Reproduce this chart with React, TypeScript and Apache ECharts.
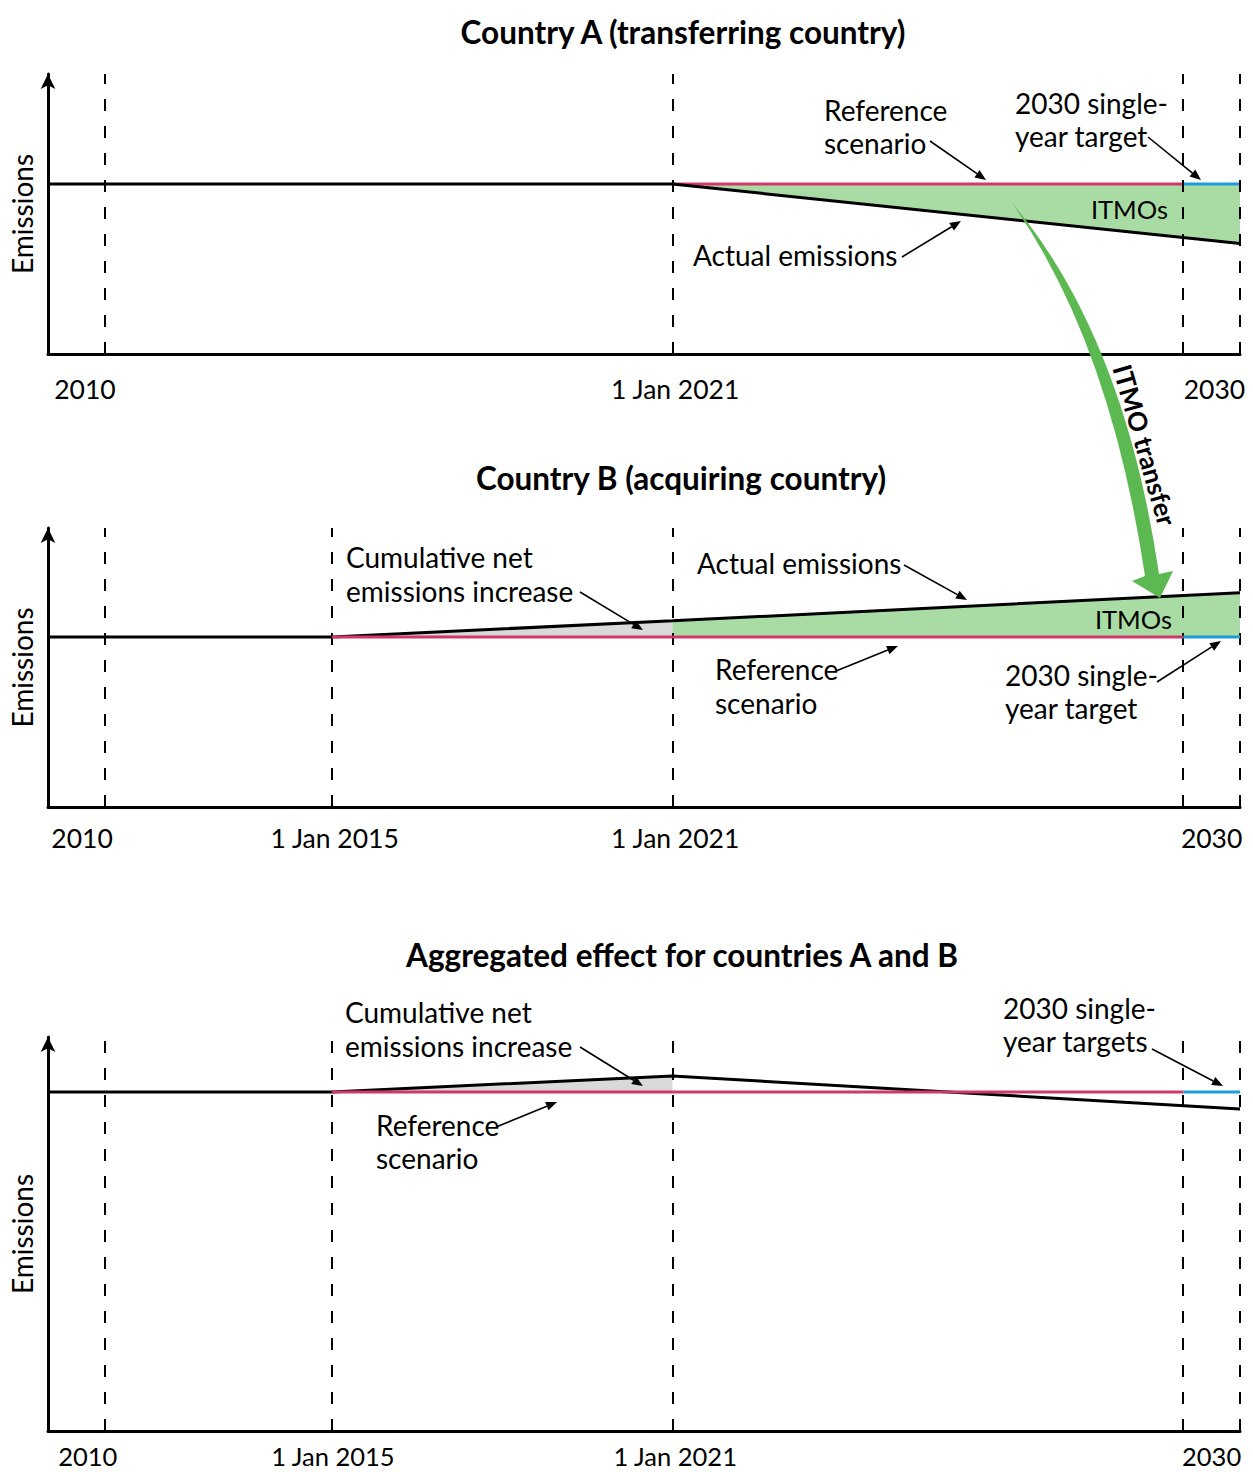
import React, { useEffect, useRef } from "react";
import * as echarts from "echarts";

// ---- x positions (diagram time units; not to scale) ----
const X_MIN = 0;
const X_MAX = 21;

// dashed vertical markers per panel
const markersA = [1, 11, 20, 21];
const markersB = [1, 5, 11, 20, 21];
const markersC = [1, 5, 11, 20, 21];

// tick labels per panel
const tickPosA = [0.65, 11.05, 20.55];
const tickLabelsA = ["2010", "1 Jan 2021", "2030"];
const tickPosB = [0.6, 5.05, 11.05, 20.5];
const tickLabelsB = ["2010", "1 Jan 2015", "1 Jan 2021", "2030"];
const tickPosC = [0.7, 5.02, 11.05, 20.5];
const tickLabelsC = ["2010", "1 Jan 2015", "1 Jan 2021", "2030"];

// ---- Panel A: transferring country ----
const actualAx = [0, 11, 21];
const actualAy = [100, 100, 65];
const refAx = [11, 20];
const refAy = [100, 100];
const targetAx = [20, 21];
const targetAy = [100, 100];
const itmoAx = [11, 21];
const itmoAy = [100, 65];

// ---- Panel B: acquiring country ----
const actualBx = [0, 5, 11, 21];
const actualBy = [100, 100, 109.5, 126];
const refBx = [5, 20];
const refBy = [100, 100];
const targetBx = [20, 21];
const targetBy = [100, 100];
const cumBx = [5, 11];
const cumBy = [100, 109.5];
const itmoBx = [11, 21];
const itmoBy = [109.5, 126];

// ---- Panel C: aggregated ----
const actualCx = [0, 5, 11, 21];
const actualCy = [100, 100, 109.5, 90];
const refCx = [5, 20];
const refCy = [100, 100];
const targetCx = [20, 21];
const targetCy = [100, 100];
const cumCx = [5, 11];
const cumCy = [100, 109.5];

const REF_LEVEL = 100;

const FONT = "Lato";
const BLACK = "#000000";
const CRIMSON = "#d0386b";
const BLUE = "#1e9cd8";
const GREEN_FILL = "#a9dba4";
const GREY_FILL = "#d9d9d9";
const GREEN_ARROW = "#5cb951";

const ARROW_PATH =
  "M1012,203 Q1124,336 1159,574 L1173,571 L1160,598 L1132,581 L1145,576 Q1110,342 1012,203 Z";

echarts.graphic.registerShape(
  "itmoArrow",
  echarts.graphic.extendPath(ARROW_PATH, {}) as any
);

const zip = (xs: number[], ys: number[]) => xs.map((x, i) => [x, ys[i]]);

function lineSeries(idx: number, xs: number[], ys: number[], color: string, z: number) {
  return {
    type: "line",
    xAxisIndex: idx,
    yAxisIndex: idx,
    data: zip(xs, ys),
    showSymbol: false,
    symbol: "none",
    lineStyle: { color, width: 3 },
    z,
    silent: true,
  };
}

function areaSeries(idx: number, xs: number[], ys: number[], color: string) {
  return {
    type: "line",
    xAxisIndex: idx,
    yAxisIndex: idx,
    data: zip(xs, ys),
    showSymbol: false,
    symbol: "none",
    lineStyle: { width: 0, color },
    areaStyle: { color, opacity: 1, origin: REF_LEVEL },
    z: 1,
    silent: true,
  };
}

function markerSeries(idx: number, xs: number[]) {
  return {
    type: "line",
    xAxisIndex: idx,
    yAxisIndex: idx,
    data: [],
    z: 6,
    silent: true,
    markLine: {
      silent: true,
      symbol: ["none", "none"],
      label: { show: false },
      lineStyle: { color: BLACK, type: [12, 15], width: 2 },
      data: xs.map((x) => ({ xAxis: x })),
      animation: false,
    },
  };
}

function xAxisOf(idx: number, pos: number[], labels: string[], margin: number, size: number) {
  return {
    type: "value",
    gridIndex: idx,
    min: X_MIN,
    max: X_MAX,
    axisLine: { show: true, onZero: false, lineStyle: { color: BLACK, width: 3 } },
    axisTick: { show: false },
    splitLine: { show: false },
    axisLabel: {
      show: true,
      customValues: pos,
      margin,
      color: BLACK,
      fontFamily: FONT,
      fontSize: size,
      lineHeight: size,
      formatter: (v: number) => {
        const i = pos.indexOf(v);
        return i >= 0 ? labels[i] : "";
      },
    },
  };
}

function yAxisOf(idx: number, min: number, max: number) {
  return {
    type: "value",
    gridIndex: idx,
    min,
    max,
    name: "Emissions",
    nameLocation: "middle",
    nameGap: 12,
    nameTextStyle: { color: BLACK, fontFamily: FONT, fontSize: 28 },
    axisLine: {
      show: true,
      onZero: false,
      symbol: ["none", "arrow"],
      symbolSize: [11, 15],
      lineStyle: { color: BLACK, width: 3 },
    },
    axisTick: { show: false },
    axisLabel: { show: false },
    splitLine: { show: false },
  };
}

function txt(x: number, y: number, s: string, opts: any = {}) {
  return {
    type: "text",
    x,
    y,
    z: 20,
    silent: true,
    rotation: opts.rotation || 0,
    style: {
      text: s,
      fill: BLACK,
      fontFamily: FONT,
      fontSize: opts.size || 28,
      fontWeight: opts.weight || "normal",
      textAlign: opts.align || "left",
      textVerticalAlign: "middle",
    },
  };
}

function arrow(x1: number, y1: number, x2: number, y2: number) {
  const a = Math.atan2(y2 - y1, x2 - x1);
  const L = 11;
  const W = 4.5;
  const bx = x2 - L * Math.cos(a);
  const by = y2 - L * Math.sin(a);
  const px = -Math.sin(a) * W;
  const py = Math.cos(a) * W;
  return [
    {
      type: "line",
      z: 20,
      silent: true,
      shape: { x1, y1, x2: bx, y2: by },
      style: { stroke: BLACK, lineWidth: 1.6 },
    },
    {
      type: "polygon",
      z: 20,
      silent: true,
      shape: { points: [[x2, y2], [bx + px, by + py], [bx - px, by - py]] },
      style: { fill: BLACK },
    },
  ];
}

// annotation arrows (pixel layout)
const annotationArrows: number[][] = [
  [930, 141, 986, 180],
  [1148, 137, 1201, 180],
  [902, 257, 961, 221],
  [580, 592, 643, 630],
  [904, 565, 967, 600],
  [836, 671, 898, 646],
  [1157, 682, 1221, 641],
  [580, 1047, 643, 1086],
  [496, 1127, 557, 1102],
  [1152, 1049, 1223, 1086],
];

export default function App() {
  const ref = useRef<HTMLDivElement>(null);
  useEffect(() => {
    document.body.style.margin = "0";
    if (!ref.current) return;
    const chart = echarts.init(ref.current, undefined, { renderer: "svg" });

    const graphic: any[] = [
      txt(683, 32, "Country A (transferring country)", { size: 31.5, weight: "bold", align: "center" }),
      txt(681, 478, "Country B (acquiring country)", { size: 31.5, weight: "bold", align: "center" }),
      txt(682, 955, "Aggregated effect for countries A and B", { size: 31.5, weight: "bold", align: "center" }),
      // Panel A
      txt(824, 110, "Reference"),
      txt(824, 143, "scenario"),
      txt(1015, 103, "2030 single-"),
      txt(1015, 136, "year target"),
      txt(1168, 209, "ITMOs", { align: "right", size: 25.5 }),
      txt(693, 255, "Actual emissions"),
      // Panel B
      txt(346, 557, "Cumulative net"),
      txt(346, 591, "emissions increase"),
      txt(697, 563, "Actual emissions"),
      txt(1172, 619, "ITMOs", { align: "right", size: 25.5 }),
      txt(715, 669, "Reference"),
      txt(715, 703, "scenario"),
      txt(1005, 675, "2030 single-"),
      txt(1005, 708, "year target"),
      // Panel C
      txt(345, 1012, "Cumulative net"),
      txt(345, 1046, "emissions increase"),
      txt(376, 1125, "Reference"),
      txt(376, 1158, "scenario"),
      txt(1003, 1008, "2030 single-"),
      txt(1003, 1041, "year targets"),
      // big transfer arrow
      {
        type: "itmoArrow",
        x: 0,
        y: 0,
        z: 15,
        silent: true,
        style: { fill: GREEN_ARROW, stroke: "none" },
      },
      txt(1145, 445, "ITMO transfer", { size: 26, weight: "bold", align: "center", rotation: -1.29 }),
    ];
    annotationArrows.forEach((a) => graphic.push(...arrow(a[0], a[1], a[2], a[3])));

    chart.setOption({
      animation: false,
      backgroundColor: "#ffffff",
      textStyle: { fontFamily: FONT },
      grid: [
        { left: 48, right: 13, top: 74, height: 280 },
        { left: 48, right: 13, top: 528, height: 279 },
        { left: 48, right: 13, top: 1037, height: 394 },
      ],
      xAxis: [
        xAxisOf(0, tickPosA, tickLabelsA, 22, 26.5),
        xAxisOf(1, tickPosB, tickLabelsB, 18, 26.5),
        xAxisOf(2, tickPosC, tickLabelsC, 12, 25.5),
      ],
      yAxis: [yAxisOf(0, 0, 164.7), yAxisOf(1, 0, 164.1), yAxisOf(2, -99.4, 132.4)],
      series: [
        // Panel A
        areaSeries(0, itmoAx, itmoAy, GREEN_FILL),
        lineSeries(0, refAx, refAy, CRIMSON, 3),
        lineSeries(0, targetAx, targetAy, BLUE, 3),
        lineSeries(0, actualAx, actualAy, BLACK, 4),
        markerSeries(0, markersA),
        // Panel B
        areaSeries(1, cumBx, cumBy, GREY_FILL),
        areaSeries(1, itmoBx, itmoBy, GREEN_FILL),
        lineSeries(1, actualBx, actualBy, BLACK, 4),
        lineSeries(1, refBx, refBy, CRIMSON, 5),
        lineSeries(1, targetBx, targetBy, BLUE, 5),
        markerSeries(1, markersB),
        // Panel C
        areaSeries(2, cumCx, cumCy, GREY_FILL),
        lineSeries(2, actualCx, actualCy, BLACK, 4),
        lineSeries(2, refCx, refCy, CRIMSON, 5),
        lineSeries(2, targetCx, targetCy, BLUE, 5),
        markerSeries(2, markersC),
      ],
      graphic,
    });
    return () => chart.dispose();
  }, []);
  return <div ref={ref} style={{ width: 1253, height: 1472 }} />;
}
